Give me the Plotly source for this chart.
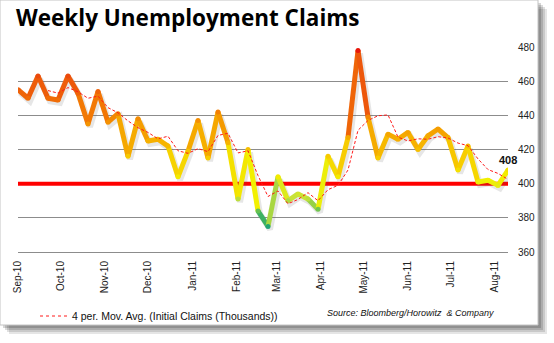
import pandas as pd
import plotly.graph_objects as go
from plotly.colors import sample_colorscale

# Weekly initial jobless claims (thousands), weeks ending Saturday
FIRST_WEEK = "2010-09-04"
CLAIMS = [455, 450, 463, 450, 449, 463, 453, 435, 454, 436,
          441, 416, 438, 425, 426, 422, 404, 419, 437, 415,
          442, 424, 391, 420, 384, 375, 404, 390, 394, 391,
          385, 416, 404, 427, 478, 439, 415, 429, 426, 430,
          420, 428, 432, 427, 408, 422, 401, 402, 399, 408]
MA_PERIOD = 4
THRESHOLD = 400
MONTH_LABELS = ["Sep-10", "Oct-10", "Nov-10", "Dec-10", "Jan-11", "Feb-11",
                "Mar-11", "Apr-11", "May-11", "Jun-11", "Jul-11", "Aug-11"]
Y_RANGE = [360, 480]
Y_STEP = 20

weeks = pd.date_range(FIRST_WEEK, periods=len(CLAIMS), freq="7D")
moving_avg = pd.Series(CLAIMS).rolling(MA_PERIOD).mean().tolist()
tick_dates = [weeks[0] + pd.DateOffset(months=i) for i in range(len(MONTH_LABELS))]

# value -> colour ramp of the claims line (green low, yellow, orange, red high)
V_MIN, V_MAX = 372, 478
RAMP = [(372, "rgb(14,156,128)"), (382, "rgb(76,184,88)"), (392, "rgb(200,226,58)"),
        (402, "rgb(242,240,0)"), (415, "rgb(247,205,0)"), (430, "rgb(245,163,0)"),
        (445, "rgb(242,118,5)"), (460, "rgb(236,84,12)"), (478, "rgb(232,22,10)")]
SCALE = [[(v - V_MIN) / (V_MAX - V_MIN), c] for v, c in RAMP]


def ramp_color(v):
    t = min(max((v - V_MIN) / (V_MAX - V_MIN), 0), 1)
    return sample_colorscale(SCALE, [t])[0]


# plot-area geometry in pixels (554 x 343 canvas)
L, R, T, B = 18, 508, 47, 252
W, H = R - L, B - T


def px(x):
    return (x - L) / W


def py(y):
    return (B - y) / H


fig = go.Figure()

# 400K reference level
fig.add_trace(go.Scatter(x=[weeks[0], weeks[-1]], y=[THRESHOLD, THRESHOLD], mode="lines",
                         line=dict(color="#ff0000", width=4), hoverinfo="skip",
                         showlegend=False, xaxis="x", yaxis="y"))

# soft drop shadow under the claims line (drawn on slightly offset axes)
fig.add_trace(go.Scatter(x=weeks, y=CLAIMS, mode="lines",
                         line=dict(color="rgba(90,90,90,0.15)", width=6),
                         hoverinfo="skip", showlegend=False, xaxis="x2", yaxis="y2"))

# claims line, each segment coloured by its level
for i in range(len(CLAIMS) - 1):
    mid = (CLAIMS[i] + CLAIMS[i + 1]) / 2
    fig.add_trace(go.Scatter(x=weeks[i:i + 2], y=CLAIMS[i:i + 2], mode="lines",
                             line=dict(color=ramp_color(mid), width=5),
                             hoverinfo="skip", showlegend=False, xaxis="x3", yaxis="y3"))

# joints between segments
fig.add_trace(go.Scatter(x=weeks, y=CLAIMS, mode="markers",
                         marker=dict(size=5, color=CLAIMS, colorscale=SCALE,
                                     cmin=V_MIN, cmax=V_MAX, line=dict(width=0)),
                         hoverinfo="skip", showlegend=False, cliponaxis=True,
                         xaxis="x3", yaxis="y3"))

# 4-period moving average
fig.add_trace(go.Scatter(x=weeks, y=moving_avg, mode="lines",
                         line=dict(color="#ff1a1a", width=1, dash="3px,2px"),
                         name="4 per. Mov. Avg. (Initial Claims (Thousands))",
                         showlegend=False, xaxis="x3", yaxis="y3"))

# offset ranges for the shadow axes: 2px right, 3px down
span = weeks[-1] - weeks[0]
dx = span / W * 2
dy = (Y_RANGE[1] - Y_RANGE[0]) / H * 3
x_range = [weeks[0], weeks[-1]]
x_range_shadow = [str(weeks[0] - dx), str(weeks[-1] - dx)]
y_range_shadow = [Y_RANGE[0] + dy, Y_RANGE[1] + dy]

tick_font = dict(family="Liberation Sans, Arial, sans-serif", size=10, color="#222222")

# frame with drop shadow
shapes = []
for k, a in [(9, 0.10), (7, 0.12), (5, 0.14), (3, 0.16)]:
    shapes.append(dict(type="rect", xref="paper", yref="paper", layer="below",
                       x0=px(0 + k), x1=px(538 + k), y0=py(325 + k), y1=py(0 + k),
                       fillcolor=f"rgba(0,0,0,{a})", line=dict(width=0)))
shapes.append(dict(type="rect", xref="paper", yref="paper", layer="below",
                   x0=px(0), x1=px(538), y0=py(325), y1=py(0),
                   fillcolor="white", line=dict(color="#c4c4c4", width=1)))
# legend sample
shapes.append(dict(type="line", xref="paper", yref="paper", layer="above",
                   x0=px(40), x1=px(70), y0=py(316), y1=py(316),
                   line=dict(color="#ff1a1a", width=1, dash="3px,3px")))

annotations = [
    dict(text="<b>Weekly Unemployment Claims</b>", xref="paper", yref="paper",
         x=px(14), y=py(17), xanchor="left", yanchor="middle", showarrow=False,
         font=dict(family="Open Sans, sans-serif", size=22.5, color="#000000")),
    dict(text="4 per. Mov. Avg. (Initial Claims (Thousands))", xref="paper", yref="paper",
         x=px(70), y=py(316), xanchor="left", yanchor="middle", showarrow=False,
         font=dict(family="Liberation Sans, Arial, sans-serif", size=10.5, color="#111111")),
    dict(text="Source: Bloomberg/Horowitz &nbsp;&amp; Company", xref="paper", yref="paper",
         x=px(325), y=py(313), xanchor="left", yanchor="middle", showarrow=False,
         font=dict(family="Liberation Sans, Arial, sans-serif", size=9, color="#111111",
                   style="italic")),
    dict(text=f"<b>{CLAIMS[-1]}</b>", xref="x3", yref="y3", x=weeks[-1], y=CLAIMS[-1],
         yshift=10, xanchor="center", yanchor="middle", showarrow=False,
         font=dict(family="Liberation Sans, Arial, sans-serif", size=11, color="#111111")),
]

fig.update_layout(
    width=554, height=343,
    margin=dict(l=L, r=554 - R, t=T, b=343 - B),
    paper_bgcolor="white", plot_bgcolor="rgba(0,0,0,0)",
    showlegend=False,
    xaxis=dict(type="date", range=x_range, tickvals=tick_dates, ticktext=MONTH_LABELS,
               tickangle=-90, showgrid=False, zeroline=False, showline=True,
               linecolor="#8c8c8c", linewidth=1, ticks="", tickfont=tick_font,
               ticklabelstandoff=4),
    yaxis=dict(range=Y_RANGE, dtick=Y_STEP, side="right", showgrid=True,
               gridcolor="#8c8c8c", gridwidth=1, zeroline=False, showline=False,
               ticks="", tickfont=tick_font, ticklabelstandoff=9),
    xaxis2=dict(type="date", overlaying="x", range=x_range_shadow, visible=False),
    yaxis2=dict(overlaying="y", range=y_range_shadow, visible=False),
    xaxis3=dict(type="date", overlaying="x", range=x_range, visible=False),
    yaxis3=dict(overlaying="y", range=Y_RANGE, visible=False),
    shapes=shapes,
    annotations=annotations,
)

fig.write_html("out.html")
